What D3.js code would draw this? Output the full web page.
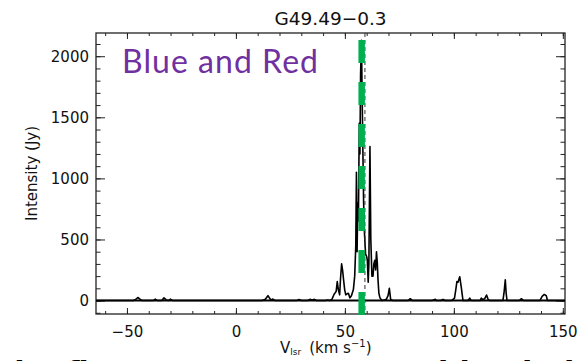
<!DOCTYPE html>
<html>
<head>
<meta charset="utf-8">
<script src="https://cdn.jsdelivr.net/npm/d3@7"></script>
<style>
  html, body { margin: 0; padding: 0; background: #fff; }
  svg { display: block; }
  text { font-family: "DejaVu Sans", sans-serif; fill: #111; }
</style>
</head>
<body>
<svg id="chart" width="583" height="361"></svg>
<script>
// spectrum of G49.49-0.3, velocity (km/s) vs intensity (Jy)
const velocity = [
  -64, -50, -47, -46, -45, -44, -43, -38, -37, -36, -34, -33, -32, -31, -30, -29,
  -10, 0, 12, 13.5, 14.7, 16, 17, 18, 28, 29, 30, 33, 34, 35, 36, 37, 41, 42, 43,
  44, 45, 46, 46.5, 47, 47.6, 48, 48.5, 49, 49.4, 49.9, 50.4, 51, 51.6, 52.3, 53, 53.9,
  54.5, 55, 55.3, 55.6, 55.9, 56.2, 56.6, 56.9, 57.2, 57.6, 57.9, 58.2, 58.6, 59, 59.5,
  60, 60.3, 60.7, 61, 61.5, 61.9, 62.4, 62.9, 63.3, 63.7, 64.1, 64.5, 64.9, 65.2, 65.6, 66.1,
  67, 68, 69, 69.8, 70.4, 71, 72, 79, 80, 81, 90, 91.5, 92, 94, 95, 96,
  99, 100.3, 100.9, 101.4, 101.9, 102.7, 103.4, 104.2, 106.5, 107.3, 108,
  112, 112.6, 113.4, 114.3, 115, 115.7, 116.5, 122.5, 123, 123.6, 124, 124.4,
  130, 131, 132, 139.5, 140.5, 141.5, 142.4, 143, 151
];
const intensity = [
  0, 0, 0, 10, 25, 12, 0, 0, 12, 0, 0, 22, 5, 0, 12, 0,
  0, 0, 0, 10, 40, 5, 12, 0, 0, 8, 0, 0, 10, 5, 10, 0, 0, 5, 0,
  8, 50, 75, 155, 90, 47, 180, 300, 240, 170, 90, 47, 55, 60, 22, 40, 90,
  200, 450, 1050, 400, 800, 650, 1450, 1200, 1850, 2130, 1700, 1300, 800, 550, 380,
  360, 330, 150, 300, 1260, 500, 200, 200, 300, 330, 250, 400, 300, 170, 60, 22,
  0, 5, 10, 40, 100, 10, 0, 0, 15, 0, 0, 10, 0, 0, 10, 0,
  0, 20, 90, 155, 150, 195, 110, 0, 0, 20, 0,
  0, 20, 5, 20, 45, 10, 0, 0, 60, 170, 60, 0,
  0, 15, 0, 0, 35, 50, 40, 0, 0
];

const xMajor = [-50, 0, 50, 100, 150];
const xMinor = d3.range(-60, 151, 10);
const yMajor = [0, 500, 1000, 1500, 2000];
const yMinor = d3.range(-100, 2101, 100);

const titleText = "G49.49\u22120.3";
const yLabel = "Intensity (Jy)";
const noteText = "Blue and Red";
const greenVel = 57.7;   // green dashed marker
const blackVel = 59.2;   // thin dashed systemic line

const svg = d3.select('#chart');
const pLeft = 96, pRight = 565, pTop = 33, pBottom = 314;

const x = d3.scaleLinear().domain([-64.2, 151]).range([pLeft, pRight]);
const y = d3.scaleLinear().domain([-110, 2190]).range([pBottom, pTop]);

// axes (ticks point inward, like IDL)
function styleAxis(g) {
  g.select('.domain').remove();
  g.selectAll('line').attr('stroke', '#222').attr('stroke-width', 1);
  g.selectAll('text').style('font-size', '15px').attr('fill', '#111');
}

svg.append('g').attr('transform', `translate(0,${pBottom})`)
  .call(d3.axisBottom(x).tickValues(xMinor).tickSize(-3).tickFormat(''))
  .call(styleAxis);
svg.append('g').attr('transform', `translate(0,${pBottom})`)
  .call(d3.axisBottom(x).tickValues(xMajor).tickSize(-6).tickPadding(12)
    .tickFormat(d => d < 0 ? '\u2212' + Math.abs(d) : d))
  .call(styleAxis);
svg.append('g').attr('transform', `translate(0,${pTop})`)
  .call(d3.axisTop(x).tickValues(xMinor).tickSize(-3).tickFormat(''))
  .call(styleAxis);
svg.append('g').attr('transform', `translate(0,${pTop})`)
  .call(d3.axisTop(x).tickValues(xMajor).tickSize(-6).tickFormat(''))
  .call(styleAxis);

svg.append('g').attr('transform', `translate(${pLeft},0)`)
  .call(d3.axisLeft(y).tickValues(yMinor).tickSize(-4.5).tickFormat(''))
  .call(styleAxis);
svg.append('g').attr('transform', `translate(${pLeft},0)`)
  .call(d3.axisLeft(y).tickValues(yMajor).tickSize(-9).tickPadding(7).tickFormat(d3.format('d')))
  .call(styleAxis);
svg.append('g').attr('transform', `translate(${pRight},0)`)
  .call(d3.axisRight(y).tickValues(yMinor).tickSize(-4.5).tickFormat(''))
  .call(styleAxis);
svg.append('g').attr('transform', `translate(${pRight},0)`)
  .call(d3.axisRight(y).tickValues(yMajor).tickSize(-9).tickFormat(''))
  .call(styleAxis);

svg.append('rect')
  .attr('x', pLeft).attr('y', pTop)
  .attr('width', pRight - pLeft).attr('height', pBottom - pTop)
  .attr('fill', 'none').attr('stroke', '#222').attr('stroke-width', 1.3);

// zero line
svg.append('line')
  .attr('x1', pLeft).attr('x2', pRight)
  .attr('y1', y(0)).attr('y2', y(0))
  .attr('stroke', '#000').attr('stroke-width', 2);

// spectrum
const line = d3.line().x((d, i) => x(velocity[i])).y(d => y(d));
svg.append('path')
  .datum(intensity)
  .attr('d', line)
  .attr('fill', 'none')
  .attr('stroke', '#000')
  .attr('stroke-width', 1.6)
  .attr('stroke-linejoin', 'round');

// thin dashed line
svg.append('line')
  .attr('x1', x(blackVel)).attr('x2', x(blackVel))
  .attr('y1', pTop).attr('y2', pBottom)
  .attr('stroke', '#333').attr('stroke-width', 1)
  .attr('stroke-dasharray', '4,3');

// green dashed marker
svg.append('line')
  .attr('x1', x(greenVel)).attr('x2', x(greenVel))
  .attr('y1', 40).attr('y2', 316)
  .attr('stroke', '#00B050').attr('stroke-width', 6.5)
  .attr('stroke-dasharray', '23,19');

// title
svg.append('text')
  .attr('x', (pLeft + pRight) / 2).attr('y', 25)
  .attr('text-anchor', 'middle')
  .style('font-size', '18.5px')
  .text(titleText);

// y label
svg.append('text')
  .attr('transform', `translate(37,${(pTop + pBottom) / 2}) rotate(-90)`)
  .attr('text-anchor', 'middle')
  .style('font-size', '15px')
  .text(yLabel);

// x label
const xl = svg.append('text')
  .attr('x', 280).attr('y', 353)
  .style('font-size', '15px');
xl.append('tspan').text('V');
xl.append('tspan').attr('dy', 2).style('font-size', '9px').text('lsr');
xl.append('tspan').attr('dy', -2).attr('dx', 8).text('(km  s');
xl.append('tspan').attr('dy', -6).style('font-size', '10px').text('\u22121');
xl.append('tspan').attr('dy', 6).text(')');

// overlay annotation
svg.append('text')
  .attr('x', 122).attr('y', 73)
  .attr('textLength', 196)
  .style('font-family', 'Lato, "Open Sans", sans-serif')
  .style('font-size', '32px')
  .style('fill', '#7030A0')
  .text(noteText);

// clipped caption line of the slide below (only the tops show)
const caption = svg.append('g')
  .style('font-family', '"Open Sans", sans-serif')
  .style('font-weight', 700)
  .style('font-size', '30px');
caption.append('text').attr('x', 0).attr('y', 383).style('fill', '#000').text('the first');
caption.append('text').attr('x', 438).attr('y', 383).style('fill', '#000').text('blue in it is');
</script>
</body>
</html>
